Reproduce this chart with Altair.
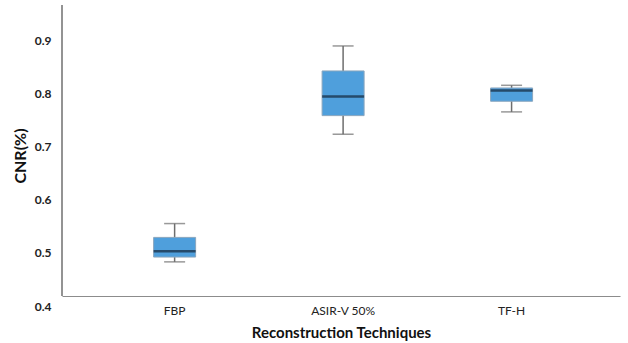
import altair as alt
import pandas as pd

# Box-plot summary statistics of CNR per reconstruction technique
techniques = ["FBP", "ASIR-V 50%", "TF-H"]
whisker_low = [0.483, 0.723, 0.765]
q1 = [0.492, 0.758, 0.785]
median = [0.503, 0.794, 0.805]
q3 = [0.529, 0.842, 0.810]
whisker_high = [0.555, 0.889, 0.815]

df = pd.DataFrame({
    "technique": techniques,
    "lo": whisker_low,
    "q1": q1,
    "median": median,
    "q3": q3,
    "hi": whisker_high,
})

FONT = "Lato"
PLOT_W, PLOT_H = 558, 301

x_enc = alt.X(
    "technique:N",
    sort=techniques,
    scale=alt.Scale(paddingInner=0, paddingOuter=0.156, align=0.54),
    axis=alt.Axis(
        title="Reconstruction Techniques",
        labelAngle=0,
        ticks=False,
        offset=-10,
        domainColor="#8c8c8c",
        domainWidth=1.2,
        labelFont=FONT,
        labelFontSize=12,
        labelColor="#222222",
        labelPadding=9,
        titleFont=FONT,
        titleFontSize=15,
        titleFontWeight="bold",
        titleColor="#111111",
        titlePadding=9,
    ),
)

y_scale = alt.Scale(domain=[0.4, 0.966], nice=False, zero=False)

base = alt.Chart(df).encode(x=x_enc)

whisker = base.mark_rule(color="#6e6e6e", strokeWidth=1.5).encode(
    y=alt.Y(
        "lo:Q",
        scale=y_scale,
        axis=alt.Axis(
            title="CNR(%)",
            values=[0.4, 0.5, 0.6, 0.7, 0.8, 0.9],
            format=".1f",
            grid=False,
            ticks=False,
            domain=False,
            labelFont=FONT,
            labelFontSize=12,
            labelFontWeight="bold",
            labelColor="#222222",
            labelPadding=11,
            titleFont=FONT,
            titleFontSize=16,
            titleFontWeight="bold",
            titleColor="#111111",
            titlePadding=6,
        ),
    ),
    y2="hi:Q",
)

caps_low = base.mark_tick(color="#6e6e6e", size=21, thickness=1.5).encode(
    y=alt.Y("lo:Q", scale=y_scale)
)
caps_high = base.mark_tick(color="#6e6e6e", size=21, thickness=1.5).encode(
    y=alt.Y("hi:Q", scale=y_scale)
)

box = base.mark_bar(
    size=42, color="#4f9fdc", stroke="#8aa6be", strokeWidth=1
).encode(
    y=alt.Y("q1:Q", scale=y_scale),
    y2="q3:Q",
)

mid = base.mark_tick(color="#14263a", size=42, thickness=2.5).encode(
    y=alt.Y("median:Q", scale=y_scale)
)

# vertical axis line ending at the horizontal axis
y_line = alt.Chart(df).mark_rule(color="#8c8c8c", strokeWidth=1.2).encode(
    x=alt.value(0), y=alt.value(0), y2=alt.value(PLOT_H - 10)
)

chart = (
    alt.layer(whisker, caps_low, caps_high, box, mid, y_line)
    .properties(
        width=PLOT_W,
        height=PLOT_H,
        autosize=alt.AutoSizeParams(type="none"),
        padding={"left": 62, "top": 5, "right": 8, "bottom": 37},
        background="white",
    )
    .configure_view(stroke=None)
)

chart.save("out.html", embed_options={"renderer": "svg", "actions": False})
